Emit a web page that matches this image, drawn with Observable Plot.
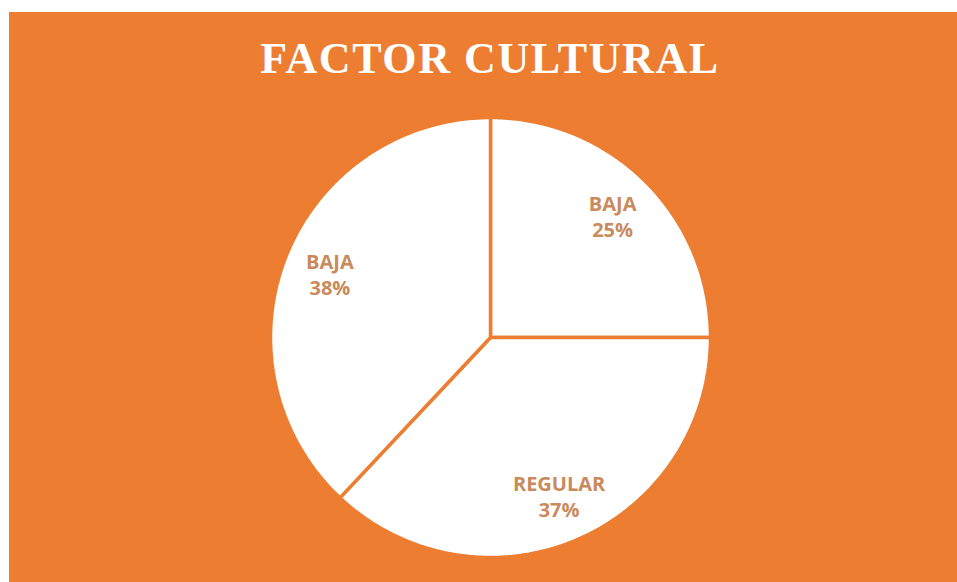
<!DOCTYPE html>
<html>
<head>
<meta charset="utf-8">
<script src="https://cdn.jsdelivr.net/npm/d3@7"></script>
<script src="https://cdn.jsdelivr.net/npm/@observablehq/plot@0.6"></script>
<style>
  html, body { margin: 0; padding: 0; background: #ffffff; }
  #frame { position: absolute; left: 9px; top: 12px; width: 948px; height: 570px; background: #ED7D31; overflow: hidden; }
  #title { height: 100px; box-sizing: border-box; padding-top: 25px; padding-left: 14px; text-align: center; color: #ffffff;
           font-family: "Liberation Serif", "DejaVu Serif", serif; font-weight: bold; font-size: 44px; letter-spacing: 1.6px; line-height: 44px; }
  #chart svg { display: block; }
</style>
</head>
<body>
<div id="frame">
  <div id="title">FACTOR CULTURAL</div>
  <div id="chart"></div>
</div>
<script>
const categories = ["BAJA", "REGULAR", "BAJA"];
const percents = [25, 37, 38];
const sliceColor = "#ffffff";
const bgColor = "#ED7D31";
const labelColor = "#C98A5C";

const W = 948, H = 470;
const R = 220;            // radius in px
const cx = 481, cy = 225; // centre in svg px

const arcs = d3.pie().sort(null)(percents);

// polygon points for each slice (unit circle, y up)
const pts = [];
arcs.forEach((a, i) => {
  pts.push({slice: i, x: 0, y: 0});
  const n = 120;
  for (let k = 0; k <= n; k++) {
    const t = a.startAngle + (a.endAngle - a.startAngle) * k / n;
    pts.push({slice: i, x: Math.sin(t), y: Math.cos(t)});
  }
  pts.push({slice: i, x: 0, y: 0});
});

const labelR = 0.785;
const labels = arcs.map((a, i) => {
  const m = (a.startAngle + a.endAngle) / 2;
  return {x: labelR * Math.sin(m), y: labelR * Math.cos(m), text: categories[i] + "\n" + percents[i] + "%"};
});

const chart = Plot.plot({
  width: W,
  height: H,
  margin: 0,
  style: {background: "transparent", overflow: "visible"},
  x: {domain: [-cx / R, (W - cx) / R], axis: null},
  y: {domain: [-(H - cy) / R, cy / R], axis: null},
  marks: [
    Plot.line(pts, {x: "x", y: "y", z: "slice", fill: sliceColor, stroke: bgColor, strokeWidth: 3.5, strokeLinejoin: "miter", curve: "linear"}),
    Plot.text(labels, {x: "x", y: "y", text: "text", fill: labelColor, fontSize: 20, fontWeight: "bold",
      fontFamily: "'Open Sans', 'Noto Sans', sans-serif", lineHeight: 1.3, textAnchor: "middle"})
  ]
});
document.getElementById("chart").appendChild(chart);
</script>
</body>
</html>
